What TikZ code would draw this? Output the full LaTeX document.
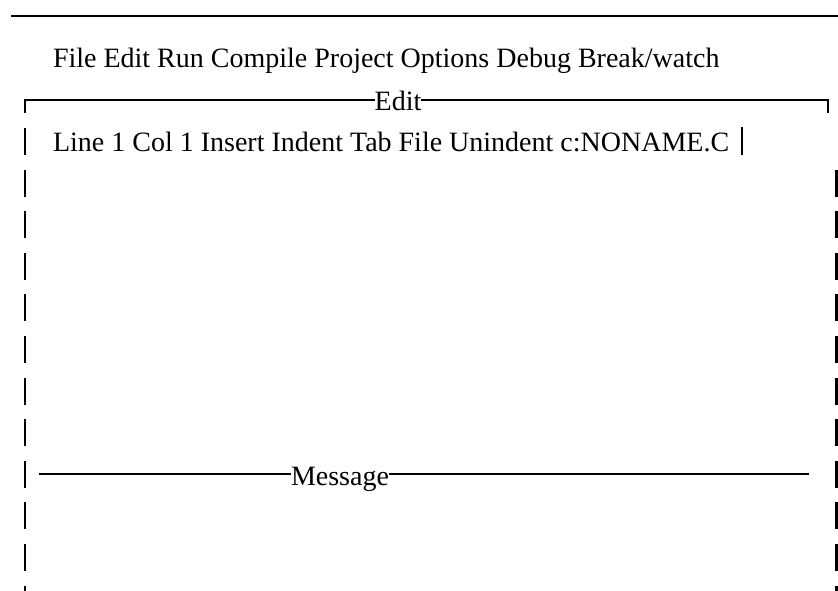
\documentclass[tikz,border=0pt]{standalone}
\usepackage{fontspec}
\setmainfont{Liberation Serif}
\begin{document}
\begin{tikzpicture}[x=1pt,y=-1pt,
  txt/.style={inner sep=0pt,outer sep=0pt,font=\fontsize{28}{33}\selectfont},
  rule/.style={line width=2.6pt,black},
  vbar/.style={line width=2.8pt,black}]
\useasboundingbox (0,0) rectangle (838,591);
% top rule
\coordinate (t1) at (11,16);
\coordinate (t2) at (838,16);
\draw[rule] (t1) -- (t2);
% menu
\node[txt,anchor=base west] (menu) at (53,68) {File Edit Run Compile Project Options Debug Break/watch};
% Edit frame top
\node[txt,anchor=base] (edit) at (398,111) {Edit};
\coordinate (tl) at (25,100);
\coordinate (tlb) at (25,113);
\coordinate (tr) at (828,100);
\coordinate (trb) at (828,113);
\draw[rule,line cap=butt] (tlb) -- (tl) -- (edit.west |- tl);
\draw[rule,line cap=butt] (edit.east |- tr) -- (tr) -- (trb);
% status line
\node[txt,anchor=base west] (status) at (53,152) {Line 1 Col 1 Insert Indent Tab File Unindent c:NONAME.C};
\coordinate (sb1) at (742,127);
\coordinate (sb2) at (742,155);
\draw[line width=2.2pt] (sb1) -- (sb2);
% side bars
\foreach \k in {0,...,11}{
  \pgfmathsetmacro{\ys}{128+41.6*\k}
  \pgfmathsetmacro{\ye}{\ys+27}
  \coordinate (l\k a) at (25,\ys);
  \coordinate (l\k b) at (25,\ye);
  \draw[vbar] (l\k a) -- (l\k b);
}
\foreach \k in {1,...,11}{
  \pgfmathsetmacro{\ys}{128+41.6*\k}
  \pgfmathsetmacro{\ye}{\ys+27}
  \coordinate (r\k a) at (836.5,\ys);
  \coordinate (r\k b) at (836.5,\ye);
  \draw[vbar] (r\k a) -- (r\k b);
}
% Message rule
\node[txt,anchor=base] (msg) at (340,485) {Message};
\coordinate (m1) at (39,474);
\coordinate (m2) at (809,474);
\draw[rule] (m1) -- (msg.west |- m1);
\draw[rule] (msg.east |- m2) -- (m2);
\end{tikzpicture}
\end{document}
